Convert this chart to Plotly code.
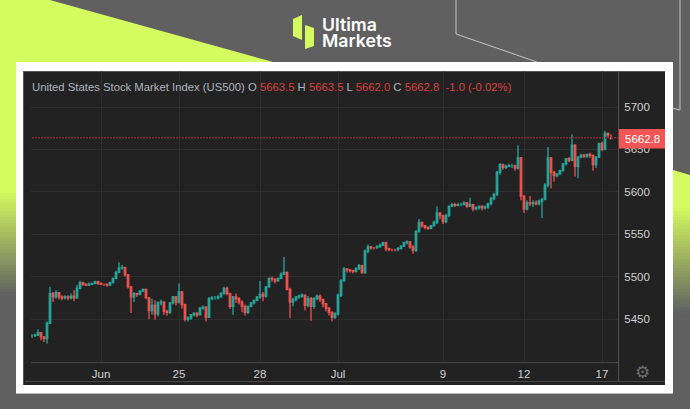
import plotly.graph_objects as go

W, H = 690, 409

closes = [
5430,5431,5434,5429,5427,5445,5480,5476,5481,5476,
5475,5476,5475,5477,5475,5486,5493,5491,5490,5491,
5492,5494,5492,5491,5491,5490,5493,5498,5505,5510,
5511,5502,5488,5476,5480,5479,5483,5485,5475,5460,
5466,5456,5469,5470,5459,5458,5469,5476,5470,5482,
5467,5450,5451,5455,5457,5455,5463,5464,5452,5474,
5475,5475,5476,5480,5486,5480,5465,5476,5474,5470,
5465,5458,5465,5469,5472,5476,5479,5477,5488,5498,
5497,5495,5498,5503,5505,5485,5470,5473,5476,5477,
5478,5466,5474,5465,5474,5477,5473,5468,5463,5458,
5452,5456,5478,5495,5509,5508,5507,5506,5509,5513,
5505,5530,5535,5534,5534,5535,5537,5540,5533,5532,
5532,5532,5533,5536,5540,5541,5535,5531,5553,5564,
5560,5558,5557,5560,5564,5575,5572,5565,5572,5583,
5585,5584,5585,5585,5587,5583,5585,5580,5581,5583,
5581,5582,5586,5592,5597,5623,5632,5629,5630,5631,
5631,5628,5640,5595,5580,5587,5586,5587,5586,5589,
5591,5608,5640,5623,5619,5621,5625,5633,5639,5637,
5655,5630,5641,5643,5642,5644,5643,5632,5641,5657,
5650,5669,5667,5662.8]
highs = [
5432,5433,5438,5434,5430,5447,5488,5482,5484,5480,
5478,5478,5478,5480,5484,5490,5495,5494,5492,5493,
5493,5495,5495,5493,5492,5492,5494,5499,5507,5517,
5514,5511,5503,5489,5482,5481,5484,5486,5486,5476,
5474,5472,5471,5473,5471,5461,5470,5477,5477,5492,
5483,5468,5453,5456,5458,5458,5464,5466,5465,5476,
5477,5477,5478,5482,5488,5488,5481,5477,5480,5476,
5472,5467,5466,5470,5473,5477,5495,5482,5489,5499,
5500,5498,5499,5505,5523,5506,5487,5475,5477,5479,
5480,5479,5477,5476,5476,5479,5479,5474,5469,5464,
5459,5458,5480,5497,5511,5510,5509,5508,5511,5515,
5514,5532,5538,5536,5535,5537,5539,5541,5541,5534,
5533,5533,5535,5537,5541,5543,5542,5537,5555,5568,
5565,5561,5559,5561,5566,5583,5576,5573,5574,5584,
5587,5587,5587,5587,5589,5588,5593,5586,5583,5584,
5584,5584,5587,5594,5599,5625,5634,5633,5632,5633,
5633,5632,5655,5641,5596,5590,5595,5590,5590,5591,
5593,5610,5653,5641,5625,5622,5626,5634,5640,5641,
5668,5656,5642,5645,5645,5645,5646,5644,5642,5658,
5659,5672,5670,5668]
lows = [
5428,5429,5430,5425,5423,5421,5445,5470,5474,5473,
5472,5473,5472,5473,5471,5474,5485,5489,5489,5489,
5490,5491,5490,5490,5489,5488,5489,5492,5497,5504,
5508,5500,5486,5457,5470,5476,5478,5482,5474,5450,
5455,5449,5453,5466,5455,5454,5456,5467,5466,5468,
5462,5447,5447,5449,5453,5452,5454,5461,5447,5452,
5472,5473,5473,5475,5479,5478,5462,5455,5469,5467,
5458,5454,5456,5464,5467,5471,5474,5471,5475,5487,
5494,5492,5494,5497,5502,5484,5451,5465,5471,5474,
5475,5460,5464,5448,5462,5472,5470,5464,5459,5454,
5447,5450,5454,5476,5494,5505,5505,5504,5505,5508,
5503,5503,5528,5532,5532,5533,5534,5536,5530,5530,
5530,5530,5530,5532,5535,5538,5533,5527,5529,5552,
5558,5556,5555,5556,5559,5562,5568,5562,5563,5570,
5582,5582,5583,5583,5584,5581,5582,5577,5578,5579,
5578,5579,5580,5584,5590,5595,5620,5626,5627,5629,
5628,5625,5626,5590,5575,5578,5583,5582,5584,5584,
5569,5590,5605,5604,5612,5617,5620,5624,5631,5635,
5636,5618,5616,5640,5640,5640,5640,5625,5628,5640,
5648,5649,5664,5662]
first_open = 5430
x_tick_positions = [23, 49, 76, 102, 137, 164, 190]
x_tick_labels = ["Jun", "25", "28", "Jul", "9", "12", "17"]
y_ticks = [5450, 5500, 5550, 5600, 5650, 5700]
opens = [first_open] + closes[:-1]
opens[-1] = 5663.5

GRAY, LIME, UP, DOWN = "#606060", "#d4fb5f", "#26a69a", "#ef5350"
PANEL, GRID = "#222222", "#2e2e2e"

def fx(x): return x / W
def fy(y): return 1 - y / H
def poly(pts, color, layer="below"):
    p = "M" + " L".join(f"{fx(x):.5f},{fy(y):.5f}" for x, y in pts) + " Z"
    return dict(type="path", path=p, xref="paper", yref="paper", fillcolor=color,
                line=dict(width=0), layer=layer)
def rect(x0, y0, x1, y1, color, layer="below"):
    return dict(type="rect", xref="paper", yref="paper", x0=fx(x0), x1=fx(x1), y0=fy(y0), y1=fy(y1),
                fillcolor=color, line=dict(width=0), layer=layer)
def line(pts, color, width=1, layer="below"):
    p = "M" + " L".join(f"{fx(x):.5f},{fy(y):.5f}" for x, y in pts)
    return dict(type="path", path=p, xref="paper", yref="paper",
                line=dict(color=color, width=width), layer=layer)
def mix(t):
    a, b = (0xd4, 0xfb, 0x5f), (0x60, 0x60, 0x60)
    return "rgb(%d,%d,%d)" % tuple(round(a[i] + (b[i] - a[i]) * t) for i in range(3))

shapes = [poly([(0, 0), (50, 0), (273, 62), (16, 62), (16, 190), (0, 190)], LIME),
          poly([(673, 170), (690, 175), (690, 205), (673, 205)], LIME)]
for y in range(190, 295, 3):
    shapes.append(rect(0, y, 16, y + 3.5, mix((y - 190) / 105)))
for y in range(205, 312, 3):
    shapes.append(rect(673, y, 690, y + 3.5, mix((y - 205) / 107)))
shapes += [
    line([(456, 0), (456, 34), (537, 62)], "#c4c4c4"),
    line([(680, 0), (680, 110), (672, 108)], "#c4c4c4"),
    poly([(293, 19), (302, 15), (302, 40), (293, 36)], LIME),
    poly([(305, 25), (314, 28), (314, 46), (305, 49)], LIME),
    rect(16, 62, 673, 393, "#ffffff"),
    rect(16, 393, 673, 394, "#b8b8b8"),
    rect(23, 71, 665, 385, PANEL),
    rect(23, 71, 665, 72, "#555555"),
    rect(23, 71, 24, 385, "#555555"),
    rect(25, 381, 665, 382, "#474747"),
    rect(618, 71, 619, 381, "#505050"),
    rect(619, 129, 665, 148.5, "#f25555", layer="above"),
]

fig = go.Figure()
fig.add_trace(go.Scatter(
    x=[-1, len(closes) + 10], y=[closes[-1] + 1, closes[-1] + 1], mode="lines",
    line=dict(color="#7a2e2e", width=1.5, dash="2px,1px"), hoverinfo="skip"))
fig.add_trace(go.Candlestick(
    x=list(range(len(closes))), open=opens, high=highs, low=lows, close=closes,
    increasing=dict(line=dict(color=UP, width=1.3), fillcolor=UP),
    decreasing=dict(line=dict(color=DOWN, width=1.3), fillcolor=DOWN),
    whiskerwidth=0))

FONT = "Liberation Sans, Arial, sans-serif"
red = "#dc4040"
head = ("United States Stock Market Index (US500) O "
        f'<span style="color:{red}">5663.5</span> H <span style="color:{red}">5663.5</span> '
        f'L <span style="color:{red}">5662.0</span> C <span style="color:{red}">{closes[-1]}</span>'
        f'<span style="color:{red}">  -1.0 (-0.02%)</span>')

annotations = [
    dict(text=head, x=fx(30), y=fy(87), xref="paper", yref="paper", xanchor="left", yanchor="middle",
         showarrow=False, font=dict(family=FONT, size=11.3, color="#aeb4bf")),
    dict(text=f"{closes[-1]}", x=fx(642), y=fy(139), xref="paper", yref="paper", xanchor="center",
         yanchor="middle", showarrow=False, font=dict(family=FONT, size=11.5, color="#ffffff")),
    dict(text="⚙", x=fx(642), y=fy(371.5), xref="paper", yref="paper", xanchor="center", yanchor="middle",
         showarrow=False, font=dict(family="DejaVu Sans", size=17, color="#6e6e6e")),
    dict(text="Ultima", x=fx(320), y=fy(24), xref="paper", yref="paper", xanchor="left", yanchor="middle",
         showarrow=False, font=dict(family="Inter", size=17.7, color="#ffffff", weight=600)),
    dict(text="Markets", x=fx(320), y=fy(41), xref="paper", yref="paper", xanchor="left", yanchor="middle",
         showarrow=False, font=dict(family="Inter", size=17.7, color="#ffffff", weight=600)),
]

fig.update_layout(
    width=W, height=H, autosize=False, showlegend=False,
    margin=dict(l=0, r=0, t=0, b=0),
    paper_bgcolor=GRAY, plot_bgcolor="rgba(0,0,0,0)",
    shapes=shapes, annotations=annotations,
    font=dict(family=FONT, color="#d0d0d0", size=12),
    xaxis=dict(domain=[fx(31), fx(618)], anchor="y", range=[-1 / 3, 586 / 3],
               tickmode="array", tickvals=x_tick_positions, ticktext=x_tick_labels,
               showgrid=True, gridcolor=GRID, gridwidth=1, zeroline=False,
               showline=True, linecolor="#474747", linewidth=1,
               ticks="outside", ticklen=1, tickcolor="rgba(0,0,0,0)",
               tickfont=dict(size=11.5, color="#d0d0d0"), rangeslider=dict(visible=False)),
    yaxis=dict(domain=[fy(362), fy(71)], anchor="x", side="right", range=[5399.3, 5742.5],
               tickmode="array", tickvals=y_ticks,
               showgrid=True, gridcolor=GRID, gridwidth=1, zeroline=False, showline=False,
               ticks="outside", ticklen=3, tickcolor="rgba(0,0,0,0)",
               tickfont=dict(size=11.5, color="#d0d0d0")),
)

fig.write_html("out.html", config=dict(displayModeBar=False),
               post_script="document.body.style.margin='0';document.body.style.overflow='hidden';")
